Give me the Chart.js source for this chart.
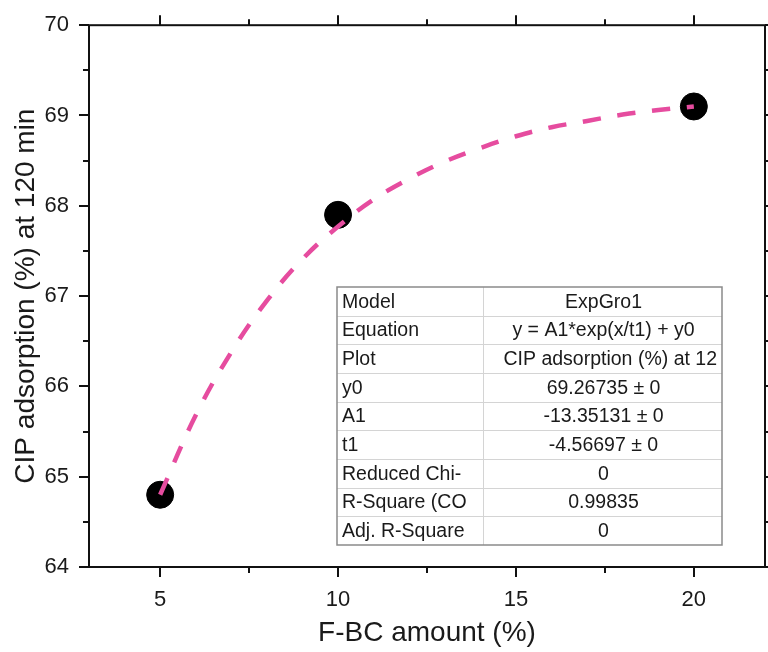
<!DOCTYPE html>
<html>
<head>
<meta charset="utf-8">
<script src="https://cdn.jsdelivr.net/npm/chart.js@4.4.0/dist/chart.umd.min.js"></script>
<style>
  html, body { margin: 0; padding: 0; background: #fff; }
  #wrap { width: 768px; height: 652px; }
</style>
</head>
<body>
<div id="wrap"><canvas id="fitChart" width="768" height="652"></canvas></div>
<script>
// measured points
const amount = [5, 10, 20];
const adsorption = [64.8, 67.9, 69.1];

// ExpGro1 fitted curve, sampled at whole percents
const fitX = [5, 6, 7, 8, 9, 10, 11, 12, 13, 14, 15, 16, 17, 18, 19, 20];
const fitY = [64.80, 65.68, 66.38, 66.95, 67.41, 67.77, 68.07, 68.30, 68.49, 68.64, 68.77, 68.87, 68.94, 69.01, 69.06, 69.10];

const xTicks = [5, 10, 15, 20];
const yTicks = [64, 65, 66, 67, 68, 69, 70];

// fit results box
const tableLabels = ["Model", "Equation", "Plot", "y0", "A1", "t1", "Reduced Chi-", "R-Square (CO", "Adj. R-Square"];
const tableValues = ["ExpGro1", "y = A1*exp(x/t1) + y0", "CIP adsorption (%) at 12", "69.26735 \u00b1 0", "-13.35131 \u00b1 0", "-4.56697 \u00b1 0", "0", "0.99835", "0"];

const FONT = "'Liberation Sans', Arial, sans-serif";
const INK = "#1a1a1a";
const PINK = "#e64c9f";
const PLOT_RIGHT = 765;

const pointData = amount.map((x, i) => ({ x: x, y: adsorption[i] }));
const fitData = fitX.map((x, i) => ({ x: x, y: fitY[i] }));

// the x scale keeps reserving room for its last label; push the plot edge out
const widenPlugin = {
  id: "widen",
  afterLayout(chart) {
    const a = chart.chartArea;
    const xs = chart.scales.x;
    a.right = PLOT_RIGHT;
    a.width = a.right - a.left;
    xs.right = PLOT_RIGHT;
    xs.width = xs.right - xs.left;
    xs.configure();
  }
};

// frame + outward ticks on all four sides
const framePlugin = {
  id: "frame",
  afterDraw(chart) {
    const ctx = chart.ctx;
    const a = chart.chartArea;
    const xs = chart.scales.x, ys = chart.scales.y;
    ctx.save();
    ctx.strokeStyle = "#111";
    ctx.lineWidth = 2;
    ctx.strokeRect(a.left, a.top, a.right - a.left, a.bottom - a.top);
    ctx.beginPath();
    for (let v = 2.5; v <= 22; v += 2.5) {
      const px = Math.round(xs.getPixelForValue(v));
      if (px < a.left || px > a.right) continue;
      const len = (v % 5 === 0) ? 10 : 6;
      ctx.moveTo(px, a.bottom); ctx.lineTo(px, a.bottom + len);
      ctx.moveTo(px, a.top); ctx.lineTo(px, a.top - len);
    }
    for (let v = 64; v <= 70; v += 0.5) {
      const py = Math.round(ys.getPixelForValue(v));
      const len = (v % 1 === 0) ? 10 : 6;
      ctx.moveTo(a.left, py); ctx.lineTo(a.left - len, py);
      ctx.moveTo(a.right, py); ctx.lineTo(a.right + len, py);
    }
    ctx.stroke();
    ctx.restore();
  }
};

const tablePlugin = {
  id: "fitTable",
  afterDatasetsDraw(chart) {
    const ctx = chart.ctx;
    const left = 337, top = 287, right = 722, bottom = 545, split = 483;
    const rowH = (bottom - top) / tableLabels.length;
    ctx.save();
    ctx.fillStyle = "#fff";
    ctx.fillRect(left, top, right - left, bottom - top);
    ctx.strokeStyle = "#d4d4d4";
    ctx.lineWidth = 1;
    ctx.beginPath();
    for (let i = 1; i < tableLabels.length; i++) {
      const y = Math.round(top + rowH * i) + 0.5;
      ctx.moveTo(left, y); ctx.lineTo(right, y);
    }
    ctx.moveTo(split + 0.5, top); ctx.lineTo(split + 0.5, bottom);
    ctx.stroke();
    ctx.strokeStyle = "#8a8a8a";
    ctx.lineWidth = 1.5;
    ctx.strokeRect(left, top, right - left, bottom - top);
    ctx.fillStyle = INK;
    ctx.font = "19.5px " + FONT;
    ctx.textBaseline = "middle";
    tableLabels.forEach((t, i) => {
      const y = top + rowH * (i + 0.5) + 1;
      ctx.textAlign = "left";
      ctx.fillText(t, left + 5, y);
      // long values hug the right edge, short ones are centred
      const val = tableValues[i];
      if (ctx.measureText(val).width > right - split - 40) {
        ctx.textAlign = "right";
        ctx.fillText(val, right - 5, y);
      } else {
        ctx.textAlign = "center";
        ctx.fillText(val, (split + right) / 2 + 1, y);
      }
    });
    ctx.restore();
  }
};

new Chart(document.getElementById("fitChart"), {
  type: "scatter",
  data: {
    datasets: [
      {
        label: "fit",
        data: fitData,
        showLine: true,
        borderColor: PINK,
        borderWidth: 4.5,
        borderDash: [18, 17],
        borderCapStyle: "butt",
        tension: 0.4,
        pointRadius: 0,
        order: 0
      },
      {
        label: "CIP adsorption",
        data: pointData,
        backgroundColor: "#000",
        borderColor: "#000",
        pointRadius: 13.5,
        order: 1
      }
    ]
  },
  options: {
    responsive: false,
    animation: false,
    layout: { padding: { top: 23, right: 3, left: 0, bottom: 0 } },
    plugins: { legend: { display: false }, tooltip: { enabled: false } },
    scales: {
      x: {
        type: "linear",
        min: 3,
        max: 22,
        grid: { display: false },
        border: { display: false },
        afterBuildTicks: (s) => { s.ticks = xTicks.map(v => ({ value: v })); },
        afterFit: (s) => { s.height = 85; },
        ticks: { color: INK, font: { family: FONT, size: 22 }, padding: 12 },
        title: {
          display: true,
          text: "F-BC amount (%)",
          color: INK,
          font: { family: FONT, size: 28 },
          padding: { top: 0, bottom: 2 }
        }
      },
      y: {
        min: 64,
        max: 70,
        grid: { display: false },
        border: { display: false },
        afterBuildTicks: (s) => { s.ticks = yTicks.map(v => ({ value: v })); },
        afterFit: (s) => { s.width = 89; },
        ticks: { color: INK, font: { family: FONT, size: 22 }, padding: 12 },
        title: {
          display: true,
          text: "CIP adsorption (%) at 120 min",
          color: INK,
          font: { family: FONT, size: 28 },
          padding: { top: 9, bottom: 0 }
        }
      }
    }
  },
  plugins: [widenPlugin, framePlugin, tablePlugin]
});
</script>
</body>
</html>
